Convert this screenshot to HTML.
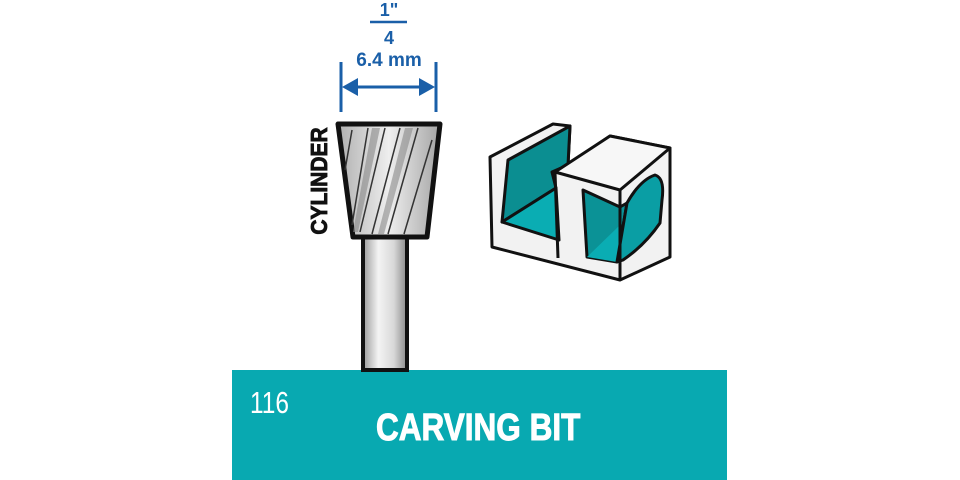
<!DOCTYPE html>
<html><head><meta charset="utf-8"><style>
html,body{margin:0;padding:0;background:#fff;width:960px;height:480px;overflow:hidden}
</style></head><body>
<svg width="960" height="480" viewBox="0 0 960 480" xmlns="http://www.w3.org/2000/svg">
<defs>
<linearGradient id="sh" x1="0" x2="1" y1="0" y2="0">
<stop offset="0" stop-color="#9a9a9a"/><stop offset="0.35" stop-color="#f4f4f4"/><stop offset="0.7" stop-color="#d8d8d8"/><stop offset="1" stop-color="#8a8a8a"/>
</linearGradient>
<linearGradient id="hd" x1="0" x2="1" y1="0" y2="0">
<stop offset="0" stop-color="#b0b0b0"/><stop offset="0.5" stop-color="#eeeeee"/><stop offset="1" stop-color="#a5a5a5"/>
</linearGradient>
</defs>
<rect x="232" y="370" width="495" height="110" fill="#08a9b1"/>
<text x="250" y="413" font-family="Liberation Sans, sans-serif" font-size="31" fill="#fff" transform="translate(250 0) scale(0.79 1) translate(-250 0)">116</text>
<text x="376" y="440" font-family="Liberation Sans, sans-serif" font-weight="bold" font-size="38" fill="#fff" stroke="#fff" stroke-width="1" transform="translate(376 0) scale(0.83 1) translate(-376 0)">CARVING BIT</text>
<rect x="363" y="235" width="44" height="135" fill="url(#sh)" stroke="#111" stroke-width="4"/>
<polygon points="338,124 440,124 427,237 353,237" fill="url(#hd)" stroke="#111" stroke-width="5" stroke-linejoin="round"/>
<g stroke="#333" stroke-width="1.5" fill="none">
<path d="M352,130 L345,170"/><path d="M368,128 L352,225"/><path d="M385,128 L360,232"/><path d="M400,128 L372,234"/><path d="M418,128 L388,234"/><path d="M432,140 L404,234"/>
</g>
<g fill="#8a8a8a" opacity="0.6">
<polygon points="372,128 380,128 358,232 353,232"/><polygon points="405,128 413,128 384,234 378,234"/>
</g>
<g fill="#1a5fa8" stroke="#1a5fa8">
<line x1="341" y1="62" x2="341" y2="112" stroke-width="3"/>
<line x1="436" y1="62" x2="436" y2="112" stroke-width="3"/>
<line x1="350" y1="87" x2="427" y2="87" stroke-width="3"/>
<polygon points="342,87 358,78 358,96" stroke="none"/>
<polygon points="435,87 419,78 419,96" stroke="none"/>
<line x1="370" y1="22" x2="407" y2="22" stroke-width="2.5"/>
</g>
<g font-family="Liberation Sans, sans-serif" font-weight="bold" fill="#1a5fa8" text-anchor="middle">
<text x="389" y="16" font-size="18">1"</text>
<text x="389" y="44" font-size="18">4</text>
<text x="389" y="66" font-size="19">6.4 mm</text>
</g>
<text transform="translate(327 181) rotate(-90) scale(1 1.1)" text-anchor="middle" font-family="Liberation Sans, sans-serif" font-weight="bold" font-size="21" fill="#111" stroke="#111" stroke-width="0.8">CYLINDER</text>
<g stroke="#111" stroke-width="3" stroke-linejoin="round">
<polygon points="490,157 553,124 570,126 568,165 610,136 670,148 670,257 620,280 492,247" fill="#f2f2f2"/>
<polygon points="508,160 570,126 568,165 552,172 556,188 502,222" fill="#0b8e91"/>
<polygon points="502,222 556,188 559,240" fill="#0aadb3"/>
<polygon points="555,172 610,136 670,148 620,190" fill="#f7f7f7"/>
<polygon points="583,190 620,207 627,203 617,262 587,257" fill="#0b9296"/>
<polygon points="587,257 617,262 625,232 620,225" fill="#0aadb3" stroke="none"/>
<path d="M627,203 Q640,180 655,175 Q665,178 662,200 L660,223 Q645,245 623,260 L617,262 Z" fill="#0a9ea4"/>
<line x1="620" y1="190" x2="620" y2="280"/>
<line x1="555" y1="172" x2="558" y2="258"/>
</g>
</svg>
</body></html>
